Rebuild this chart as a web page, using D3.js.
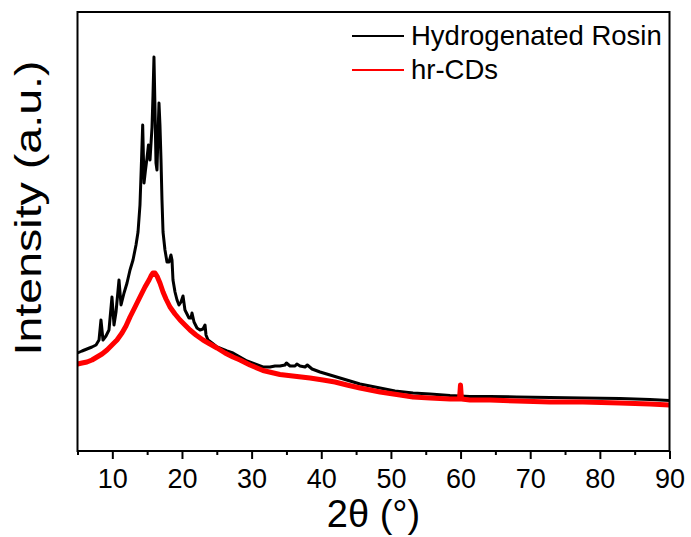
<!DOCTYPE html>
<html><head><meta charset="utf-8">
<script src="https://cdn.jsdelivr.net/npm/d3@7"></script>
<style>body{margin:0;background:#fff}text{font-family:"Liberation Sans",Arial,sans-serif}</style>
</head><body><svg id="c" width="691" height="537"></svg>
<script>
// 2θ (degrees) and intensity (a.u.)
const rosinX = [5.0,5.65,6.36,7.08,7.66,8.09,8.37,8.66,9.09,9.52,9.95,10.24,10.53,10.96,11.25,11.68,12.11,12.54,12.97,13.40,13.69,13.97,14.12,14.36,14.55,14.76,14.98,15.19,15.41,15.70,15.84,15.98,16.13,16.27,16.41,16.56,16.70,16.84,16.99,17.13,17.28,17.56,17.85,18.14,18.42,18.57,18.71,19.00,19.29,19.57,19.86,20.15,20.43,20.72,21.01,21.30,21.44,21.73,22.16,22.59,23.02,23.31,23.45,23.74,24.31,25.03,25.75,26.46,27.32,28.33,29.33,30.48,31.63,32.64,33.36,34.07,34.79,35.0,35.51,36.23,36.5,36.95,37.67,38.0,38.68,39.82,41.26,42.69,44.13,45.56,47.00,48.44,50.59,53.18,55.62,58.49,61.35,64.22,68.10,72.84,77.58,82.89,87.20,90.0];
const rosinY = [980,1000,1020,1040,1060,1110,1310,1110,1150,1210,1540,1260,1390,1710,1460,1580,1680,1810,1910,2060,2190,2460,2760,3260,2680,2810,2930,3060,2910,3240,3560,3940,3410,2880,2810,3160,3480,3260,2910,2510,2190,2010,1890,1890,1960,1910,1710,1590,1510,1460,1490,1550,1410,1370,1330,1330,1380,1290,1230,1210,1220,1260,1160,1110,1080,1040,1020,1000,980,940,900,870,840,840,850,850,860,880,850,850,870,850,840,860,820,790,760,730,700,670,650,630,600,580,570,555,545,545,540,535,530,525,515,505];
const cdsX = [5.0,5.65,6.36,7.08,7.80,8.52,9.24,9.95,10.67,11.39,11.96,12.54,13.26,13.97,14.69,15.27,15.55,15.84,16.13,16.41,16.84,17.28,17.71,18.28,19.00,19.72,20.43,21.15,22.01,23.02,24.02,25.03,26.18,27.32,28.33,29.76,31.63,34.07,36.51,38.38,40.25,41.97,43.69,45.56,48.44,51.31,53.18,55.62,58.49,59.85,59.99,60.13,61.35,64.22,68.10,72.84,77.58,82.89,87.20,90.0];
const cdsY = [870,880,890,910,940,970,1010,1060,1110,1180,1250,1340,1440,1540,1640,1710,1750,1780,1780,1750,1680,1590,1520,1440,1370,1310,1260,1210,1160,1110,1070,1030,980,940,910,860,805,765,745,730,710,690,660,630,590,560,540,530,520,520,660,520,510,510,500,490,490,480,470,460];
const majorTicks = [10,20,30,40,50,60,70,80,90];
const minorTicks = [5,15,25,35,45,55,65,75,85];
const seriesNames = ["Hydrogenated Rosin","hr-CDs"];
const seriesColors = ["#000000","#ff0000"];

const svg = d3.select("#c");
const L=77.5,R=669.5,T=12,B=451;
const x = d3.scaleLinear().domain([5,90]).range([L,R]);
const y = d3.scaleLinear().domain([0,4390]).range([B,T]);
const line = d3.line().x(d=>x(d[0])).y(d=>y(d[1]));

svg.append("path").datum(d3.zip(rosinX,rosinY)).attr("d",line)
  .attr("fill","none").attr("stroke",seriesColors[0]).attr("stroke-width",3).attr("stroke-linejoin","round");
svg.append("path").datum(d3.zip(cdsX,cdsY)).attr("d",line)
  .attr("fill","none").attr("stroke",seriesColors[1]).attr("stroke-width",5).attr("stroke-linejoin","round");

// axes
const gMin = svg.append("g").attr("transform",`translate(0,${B})`)
  .call(d3.axisBottom(x).tickValues(minorTicks).tickSize(4).tickFormat(""));
const gMaj = svg.append("g").attr("transform",`translate(0,${B})`)
  .call(d3.axisBottom(x).tickValues(majorTicks).tickSize(8).tickPadding(10).tickFormat(d3.format("d")));
[gMin,gMaj].forEach(g=>{g.select(".domain").remove();g.selectAll("line").attr("stroke","#000").attr("stroke-width",2);});
gMaj.selectAll("text").attr("font-size",27).attr("fill","#000").attr("font-family","Liberation Sans, Arial, sans-serif");

svg.append("rect").attr("x",L).attr("y",T).attr("width",R-L).attr("height",B-T)
  .attr("fill","none").attr("stroke","#000").attr("stroke-width",2);

svg.append("text").attr("x",(L+R)/2).attr("y",527).attr("text-anchor","middle")
  .attr("font-size",38).text("2θ (°)");
svg.append("text").attr("transform","translate(41,208) rotate(-90)").attr("text-anchor","middle")
  .attr("font-size",36).attr("textLength",295).attr("lengthAdjust","spacingAndGlyphs").text("Intensity (a.u.)");

// legend
const leg = svg.append("g");
[36,70].forEach((ly,i)=>{
  leg.append("line").attr("x1",352).attr("x2",404).attr("y1",ly).attr("y2",ly)
    .attr("stroke",seriesColors[i]).attr("stroke-width",2);
  leg.append("text").attr("x",411).attr("y",ly+9).attr("font-size",27.5).text(seriesNames[i]);
});
</script></body></html>
